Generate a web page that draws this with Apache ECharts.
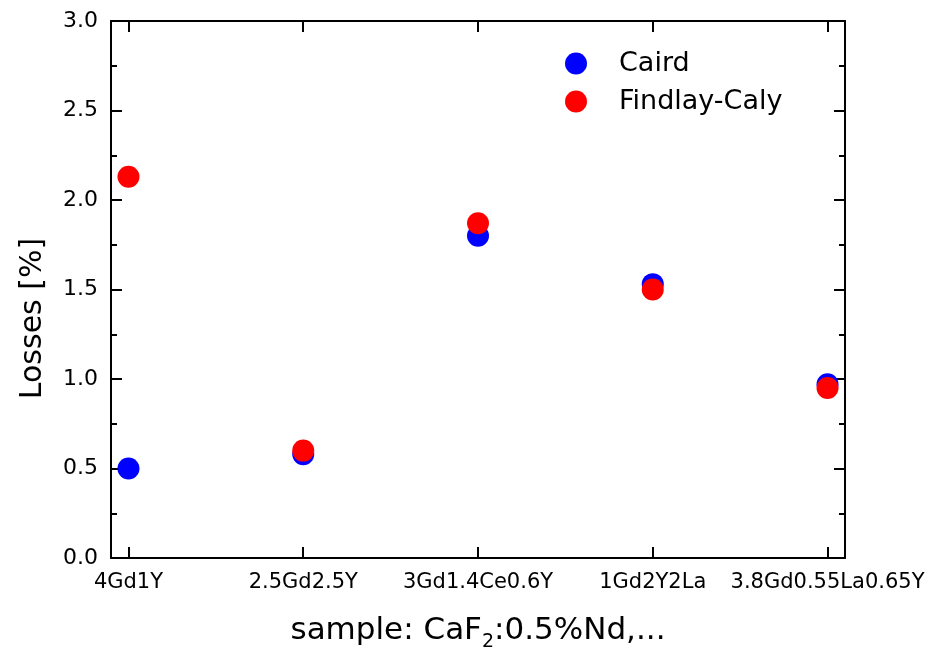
<!DOCTYPE html>
<html>
<head>
<meta charset="utf-8">
<script src="https://cdn.jsdelivr.net/npm/echarts@6/dist/echarts.min.js"></script>
<style>
html,body{margin:0;padding:0;background:#fff;}
#c{width:931px;height:657px;}
</style>
</head>
<body>
<div id="c"></div>
<script>
var categories = ['4Gd1Y', '2.5Gd2.5Y', '3Gd1.4Ce0.6Y', '1Gd2Y2La', '3.8Gd0.55La0.65Y'];
var cairdValues = [0.50, 0.58, 1.80, 1.53, 0.97];
var findlayValues = [2.13, 0.60, 1.87, 1.50, 0.95];
var yTicks = [0, 0.5, 1.0, 1.5, 2.0, 2.5, 3.0];
var xPositions = [1, 2, 3, 4, 5];

function pairs(vals) {
  return vals.map(function (v, i) { return [xPositions[i], v]; });
}

var FONT = 'DejaVu Sans';
var chart = echarts.init(document.getElementById('c'), null, { renderer: 'canvas' });

var axisLineStyle = { color: '#000', width: 2 };

chart.setOption({
  animation: false,
  backgroundColor: '#fff',
  grid: { left: 111, right: 86, top: 21, bottom: 97, containLabel: false },
  legend: {
    orient: 'vertical',
    left: 565,
    top: 50,
    padding: 0,
    itemGap: 11,
    itemWidth: 22,
    itemHeight: 22,
    icon: 'circle',
    textStyle: { fontFamily: FONT, fontSize: 27, color: '#000', padding: [0, 0, 0, 27] },
    data: ['Caird', 'Findlay-Caly']
  },
  xAxis: [
    {
      type: 'value',
      position: 'bottom',
      min: 0.9,
      max: 5.1,
      axisLine: { show: true, onZero: false, lineStyle: axisLineStyle },
      axisTick: { show: true, inside: true, length: 11, lineStyle: { color: '#000', width: 2 }, customValues: xPositions },
      axisLabel: {
        show: true, margin: 14, fontFamily: FONT, fontSize: 21, color: '#000',
        customValues: xPositions,
        formatter: function (v) { return categories[Math.round(v) - 1] || ''; }
      },
      splitLine: { show: false },
      name: 'sample: CaF{sub|2}:0.5%Nd,...',
      nameLocation: 'middle',
      nameGap: 52,
      nameTextStyle: {
        fontFamily: FONT, fontSize: 31, color: '#000', lineHeight: 42,
        rich: { sub: { fontFamily: FONT, fontSize: 19, lineHeight: 14, verticalAlign: 'bottom', color: '#000' } }
      }
    },
    {
      type: 'value',
      position: 'top',
      min: 0.9,
      max: 5.1,
      axisLine: { show: true, onZero: false, lineStyle: axisLineStyle },
      axisTick: { show: true, inside: true, length: 11, lineStyle: { color: '#000', width: 2 }, customValues: xPositions },
      axisLabel: { show: false },
      splitLine: { show: false }
    }
  ],
  yAxis: [
    {
      type: 'value',
      position: 'left',
      min: 0,
      max: 3,
      interval: 0.5,
      axisLine: { show: true, onZero: false, lineStyle: axisLineStyle },
      axisTick: { show: true, inside: true, length: 11, lineStyle: { color: '#000', width: 2 } },
      minorTick: { show: true, splitNumber: 2, length: 6, lineStyle: { color: '#000', width: 2 } },
      axisLabel: {
        show: true, margin: 13, fontFamily: FONT, fontSize: 22, color: '#000',
        formatter: function (v) { return v.toFixed(1); }
      },
      splitLine: { show: false },
      minorSplitLine: { show: false },
      name: 'Losses [%]',
      nameLocation: 'middle',
      nameRotate: 90,
      nameGap: 63,
      nameTextStyle: { fontFamily: FONT, fontSize: 30, color: '#000', padding: [0, 58, 0, 0] }
    },
    {
      type: 'value',
      position: 'right',
      min: 0,
      max: 3,
      interval: 0.5,
      axisLine: { show: true, onZero: false, lineStyle: axisLineStyle },
      axisTick: { show: true, inside: true, length: 11, lineStyle: { color: '#000', width: 2 } },
      minorTick: { show: true, splitNumber: 2, length: 6, lineStyle: { color: '#000', width: 2 } },
      axisLabel: { show: false },
      splitLine: { show: false },
      minorSplitLine: { show: false }
    }
  ],
  series: [
    {
      name: 'Caird',
      type: 'scatter',
      xAxisIndex: 0,
      yAxisIndex: 0,
      symbol: 'circle',
      symbolSize: 22,
      itemStyle: { color: '#0000FF', opacity: 1 },
      data: pairs(cairdValues),
      z: 2
    },
    {
      name: 'Findlay-Caly',
      type: 'scatter',
      xAxisIndex: 0,
      yAxisIndex: 0,
      symbol: 'circle',
      symbolSize: 22,
      itemStyle: { color: '#FF0000', opacity: 1 },
      data: pairs(findlayValues),
      z: 3
    }
  ]
});
</script>
</body>
</html>
